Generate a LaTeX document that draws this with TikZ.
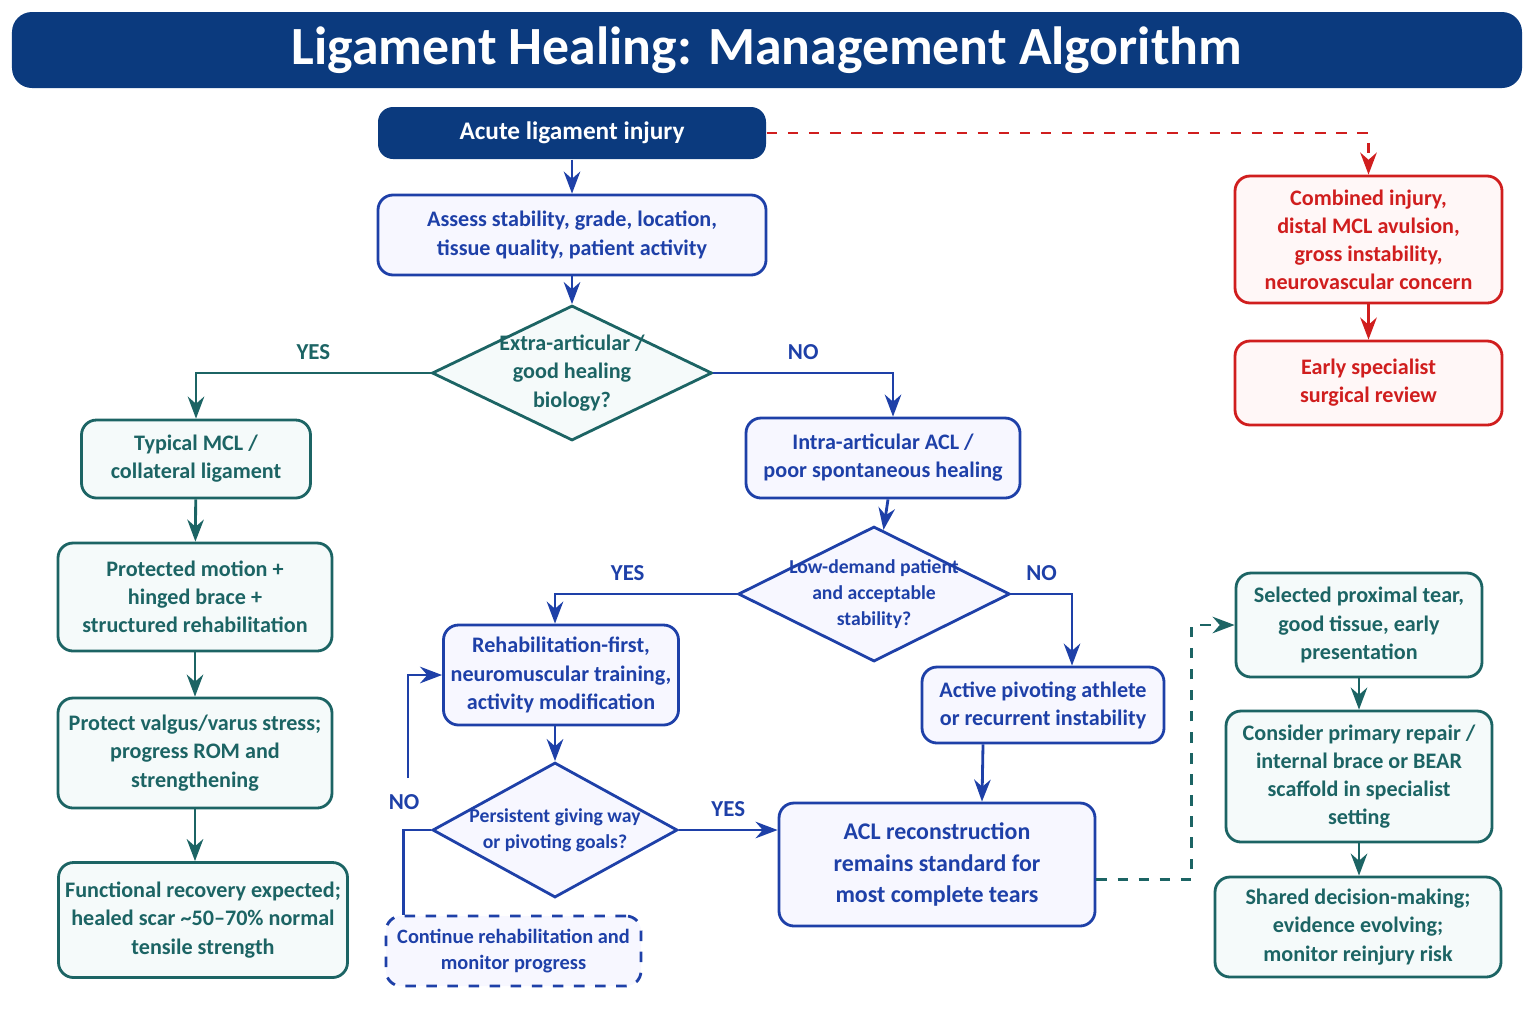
\documentclass[tikz,border=0pt]{standalone}
\usepackage{fontspec}
\setmainfont{Carlito}
\usetikzlibrary{positioning,shapes.geometric,arrows.meta}
\definecolor{navy}{HTML}{0B3A7E}
\definecolor{flowblue}{HTML}{1E40A8}
\definecolor{flowteal}{HTML}{1C6464}
\definecolor{flowred}{HTML}{D01E1E}
\tikzset{
  txt/.style={font=\fontsize{6.3}{8}\selectfont\bfseries, align=center},
  bluebox/.style={txt, draw=flowblue, text=flowblue, fill=blue!3, rounded corners=1.5mm, line width=0.8pt, inner sep=1pt},
  tealbox/.style={txt, draw=flowteal, text=flowteal, fill=teal!4, rounded corners=1.5mm, line width=0.8pt, inner sep=1pt},
  redbox/.style={txt, draw=flowred, text=flowred, fill=red!3, rounded corners=1.5mm, line width=0.8pt, inner sep=1pt},
  bluedia/.style={txt, diamond, aspect=2.3, draw=flowblue, text=flowblue, fill=blue!3, line width=0.8pt, inner sep=-2.5pt},
  tealdia/.style={txt, diamond, aspect=2.3, draw=flowteal, text=flowteal, fill=teal!4, line width=0.8pt, inner sep=-2.5pt},
  barr/.style={-{Stealth[length=2.2mm]}, draw=flowblue, line width=0.8pt},
  tarr/.style={-{Stealth[length=2.2mm]}, draw=flowteal, line width=0.8pt},
  rarr/.style={-{Stealth[length=2.2mm]}, draw=flowred, line width=0.8pt, dashed},
  lbl/.style={font=\fontsize{6.5}{8}\selectfont\bfseries}
}
\begin{document}
\begin{tikzpicture}
\useasboundingbox (0,0) rectangle (15.36,-10.24);
% title
\node[fill=navy, rounded corners=2mm, minimum width=15.1cm, minimum height=0.76cm, text=white, font=\fontsize{15.3}{17}\selectfont\bfseries] (title) at (7.67,-0.5) {Ligament Healing: Management Algorithm};
% main column
\node[fill=navy, text=white, rounded corners=1.5mm, minimum width=3.88cm, minimum height=0.52cm, font=\fontsize{7.2}{8}\selectfont\bfseries] (acute) at (5.72,-1.33) {Acute ligament injury};
\node[bluebox, minimum width=3.88cm, minimum height=0.8cm] (assess) at (5.72,-2.35) {Assess stability, grade, location,\\tissue quality, patient activity};
\node[tealdia, minimum width=2.8cm, minimum height=1.35cm] (extra) at (5.72,-3.73) {Extra-articular /\\good healing\\biology?};
% teal branch
\node[tealbox, minimum width=2.29cm, minimum height=0.78cm] (mcl) at (1.96,-4.59) {Typical MCL /\\collateral ligament};
\node[tealbox, minimum width=2.74cm, minimum height=1.08cm] (protected) at (1.95,-5.97) {Protected motion +\\hinged brace +\\structured rehabilitation};
\node[tealbox, minimum width=2.74cm, minimum height=1.1cm] (valgus) at (1.95,-7.53) {Protect valgus/varus stress;\\progress ROM and\\strengthening};
\node[tealbox, minimum width=2.89cm, minimum height=1.15cm] (functional) at (2.03,-9.2) {Functional recovery expected;\\healed scar \textasciitilde50--70\% normal\\tensile strength};
% blue branch
\node[bluebox, minimum width=2.74cm, minimum height=0.8cm] (intra) at (8.83,-4.58) {Intra-articular ACL /\\poor spontaneous healing};
\node[bluedia, minimum width=2.58cm, minimum height=1.35cm, font=\fontsize{5.6}{7.5}\selectfont\bfseries] (demand) at (8.74,-5.94) {Low-demand patient\\and acceptable\\stability?};
\node[bluebox, minimum width=2.35cm, minimum height=1.0cm] (rehab) at (5.61,-6.75) {Rehabilitation-first,\\neuromuscular training,\\activity modification};
\node[bluebox, minimum width=2.42cm, minimum height=0.76cm] (active) at (10.43,-7.05) {Active pivoting athlete\\or recurrent instability};
\node[bluedia, minimum width=2.45cm, minimum height=1.35cm, font=\fontsize{5.6}{7.5}\selectfont\bfseries] (giving) at (5.55,-8.3) {Persistent giving way\\or pivoting goals?};
\node[bluebox, dashed, minimum width=2.55cm, minimum height=0.7cm, font=\fontsize{5.8}{7.5}\selectfont\bfseries] (continue) at (5.135,-9.51) {Continue rehabilitation and\\monitor progress};
\node[bluebox, minimum width=3.16cm, minimum height=1.23cm, font=\fontsize{6.8}{9}\selectfont\bfseries] (recon) at (9.37,-8.645) {ACL reconstruction\\remains standard for\\most complete tears};
% red branch
\node[redbox, minimum width=2.67cm, minimum height=1.27cm] (combined) at (13.685,-2.395) {Combined injury,\\distal MCL avulsion,\\gross instability,\\neurovascular concern};
\node[redbox, minimum width=2.67cm, minimum height=0.84cm] (early) at (13.685,-3.83) {Early specialist\\surgical review};
% repair branch
\node[tealbox, minimum width=2.46cm, minimum height=1.04cm] (selected) at (13.59,-6.25) {Selected proximal tear,\\good tissue, early\\presentation};
\node[tealbox, minimum width=2.66cm, minimum height=1.31cm] (repair) at (13.59,-7.765) {Consider primary repair /\\internal brace or BEAR\\scaffold in specialist\\setting};
\node[tealbox, minimum width=2.86cm, minimum height=1.0cm] (shared) at (13.58,-9.27) {Shared decision-making;\\evidence evolving;\\monitor reinjury risk};
% connectors
\draw[barr] (acute) -- (assess);
\draw[barr] (assess) -- (extra);
\draw[tarr] (extra.west) -| node[pos=0.25, above, text=flowteal, lbl] {YES} (mcl.north);
\draw[barr] (extra.east) -| node[pos=0.25, above, text=flowblue, lbl] {NO} ([xshift=0.1cm]intra.north);
\draw[tarr] (mcl) -- (protected);
\draw[tarr] (protected) -- (valgus);
\draw[tarr] (valgus) -- (functional.north -| valgus);
\draw[barr] ([xshift=0.05cm]intra.south) -- (demand);
\draw[barr] (demand.west) -| node[pos=0.3, above, text=flowblue, lbl] {YES} ([xshift=-0.06cm]rehab.north);
\draw[barr] (demand.east) -| node[pos=0.25, above, text=flowblue, lbl] {NO} ([xshift=0.29cm]active.north);
\draw[barr] ([xshift=-0.06cm]rehab.south) -- (giving);
\draw[barr] (giving.east) -- node[above, text=flowblue, lbl] {YES} (recon.west |- giving.east);
\draw[draw=flowblue, line width=0.8pt] (giving.west) -| ([xshift=-1.1cm]continue.north);
\coordinate (nobend) at (4.08,-7.78);
\draw[barr] (nobend) |- (rehab.west);
\node[lbl, text=flowblue] (nolbl) at (4.04,-8.02) {NO};
\draw[barr] ([xshift=-0.6cm]active.south) -- ([xshift=0.45cm]recon.north);
\draw[tarr, dashed] ([yshift=-0.15cm]recon.east) -- ++(0.95,0) |- (selected.west);
\draw[tarr] (selected) -- (selected |- repair.north);
\draw[tarr] (repair) -- (repair |- shared.north);
\draw[rarr] (acute.east) -| (combined.north);
\draw[-{Stealth[length=2.2mm]}, draw=flowred, line width=0.8pt] (combined) -- (early);
\end{tikzpicture}
\end{document}
